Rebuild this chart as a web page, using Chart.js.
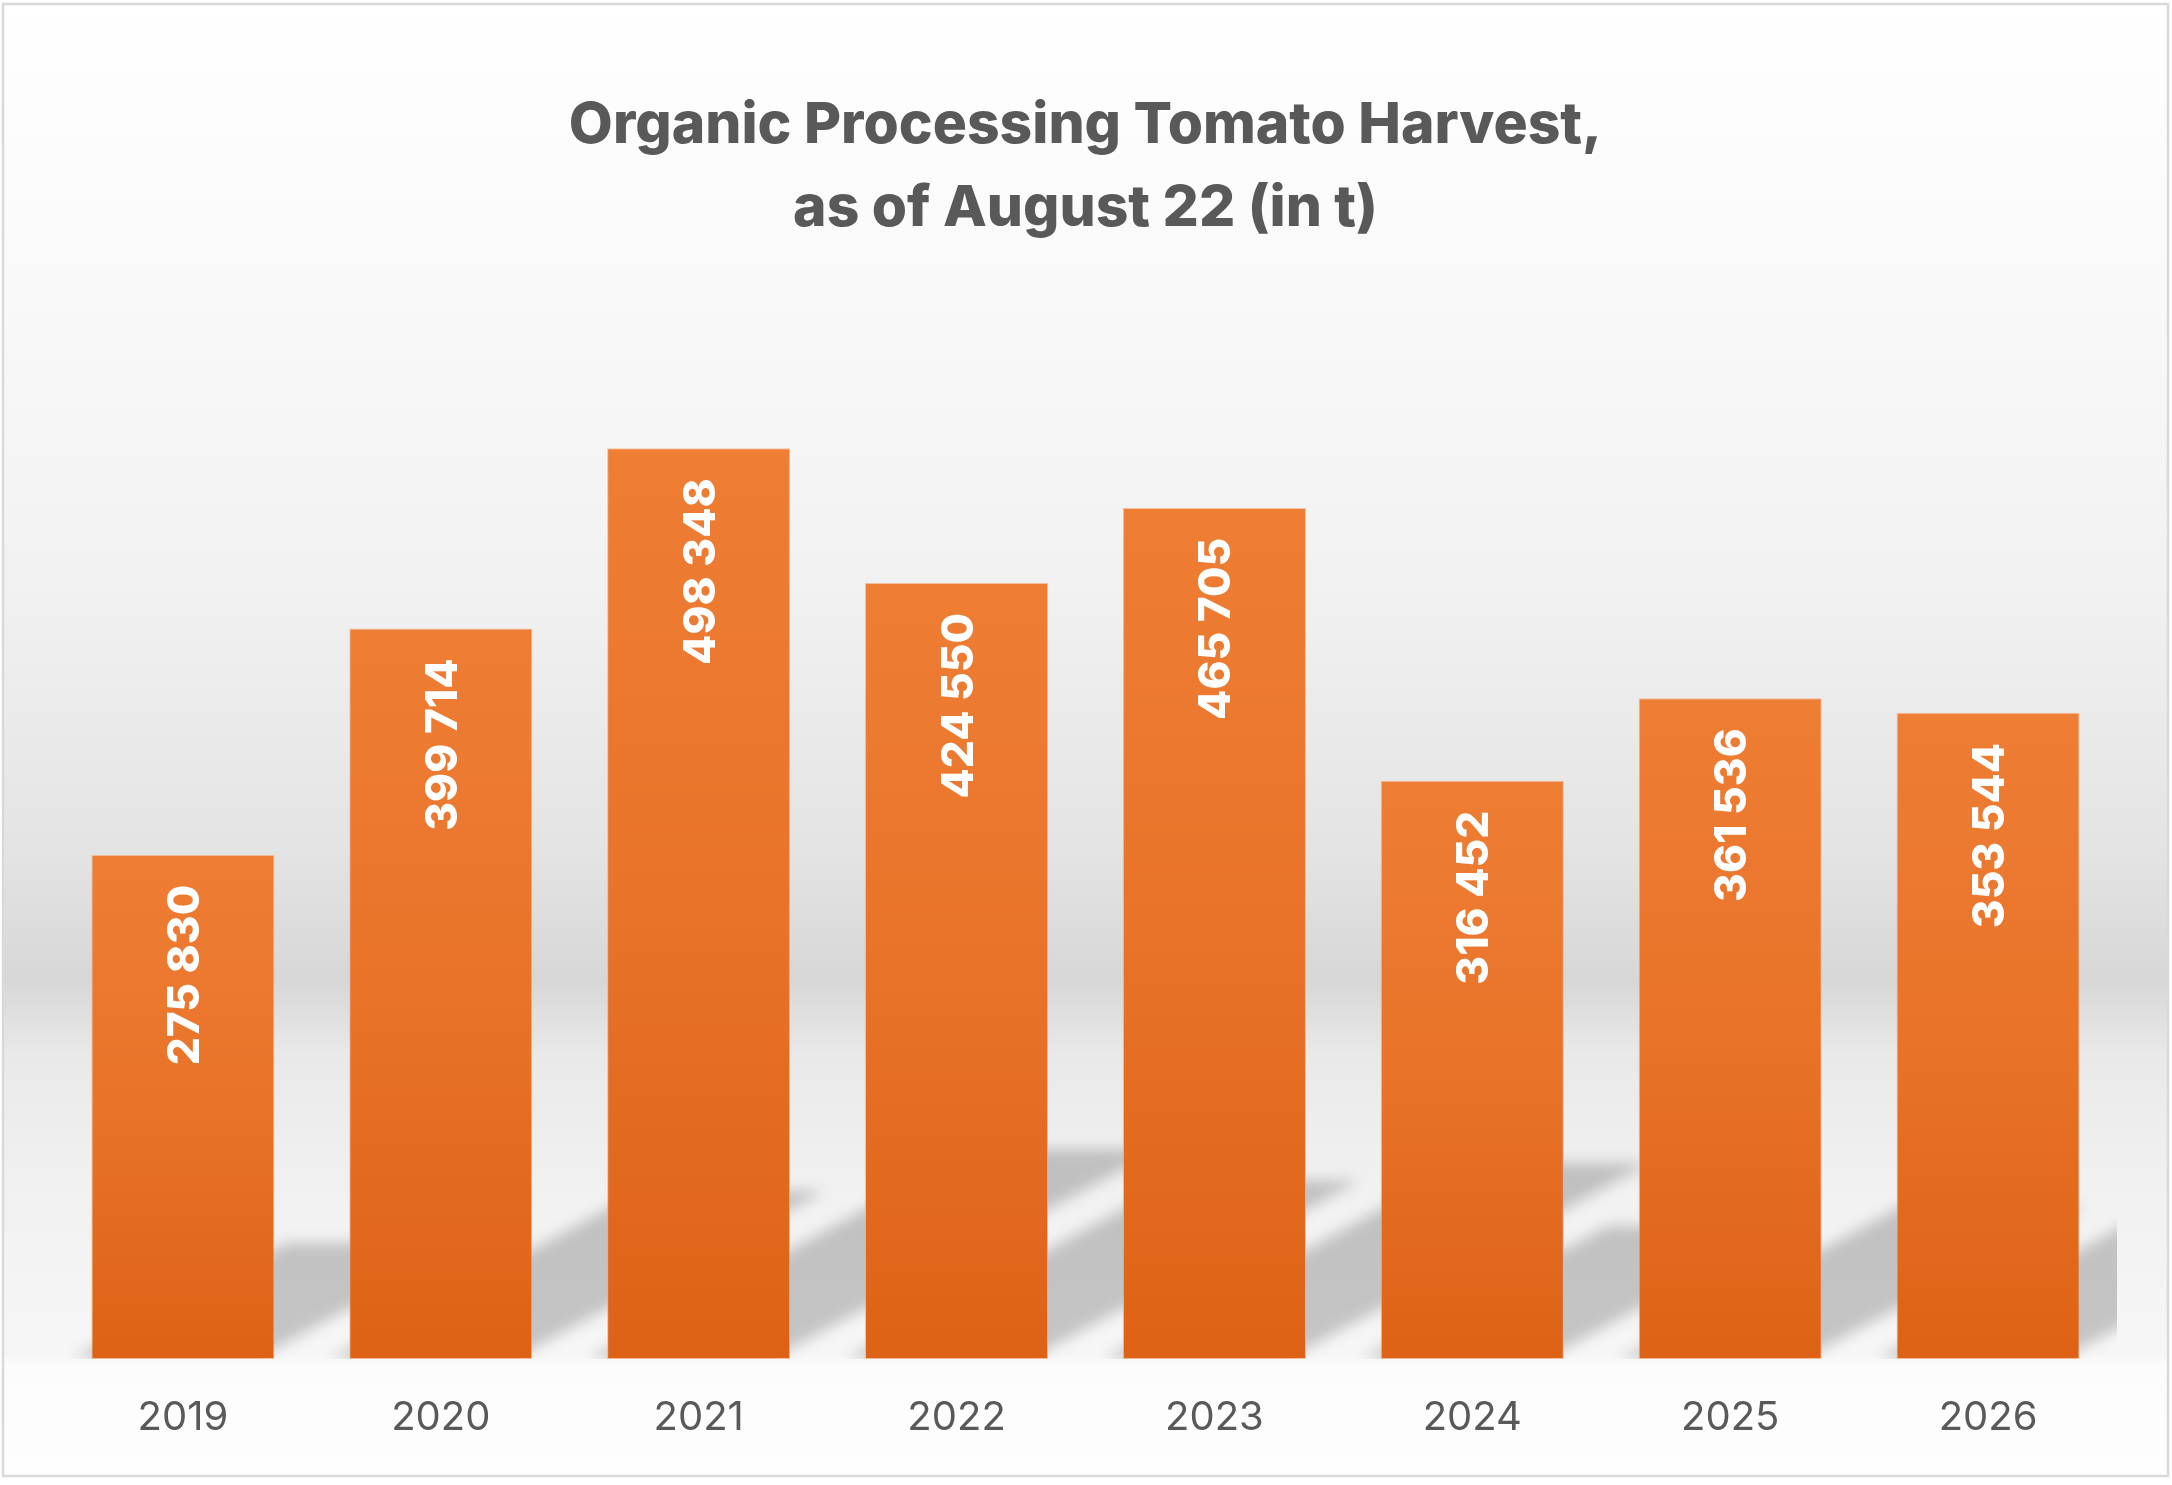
<!DOCTYPE html>
<html>
<head>
<meta charset="utf-8">
<script src="https://cdn.jsdelivr.net/npm/chart.js@4.4.1/dist/chart.umd.min.js"></script>
<style>
  html, body { margin: 0; padding: 0; background: #ffffff; }
  canvas { display: block; }
</style>
</head>
<body>
<canvas id="c" width="2172" height="1485"></canvas>
<script>
// ---- data ----
const years = ['2019', '2020', '2021', '2022', '2023', '2024', '2025', '2026'];
const harvest = [275830, 399714, 498348, 424550, 465705, 316452, 361536, 353544];
const titleLines = ['Organic Processing Tomato Harvest,', 'as of August 22 (in t)'];
const yMin = 0;
const yMax = 600000;

function fmt(v) {
  return String(v).replace(/\B(?=(\d{3})+(?!\d))/g, ' ');
}

// background + frame
const bgPlugin = {
  id: 'bg',
  beforeDraw(chart) {
    const ctx = chart.ctx;
    const W = chart.width, H = chart.height;
    ctx.save();
    ctx.fillStyle = '#ffffff';
    ctx.fillRect(0, 0, W, H);
    const g = ctx.createLinearGradient(0, 0, 0, H);
    g.addColorStop(0.00, '#ffffff');
    g.addColorStop(0.20, '#f9f9f9');
    g.addColorStop(0.40, '#f1f1f1');
    g.addColorStop(0.57, '#e4e4e4');
    g.addColorStop(0.66, '#d7d7d7');
    g.addColorStop(0.71, '#e9e9e9');
    g.addColorStop(0.80, '#f1f1f1');
    g.addColorStop(0.912, '#f6f6f6');
    g.addColorStop(0.920, '#fcfcfc');
    g.addColorStop(1.00, '#fefefe');
    ctx.fillStyle = g;
    ctx.fillRect(3, 4, 2165, 1472);
    ctx.strokeStyle = '#d9d9d9';
    ctx.lineWidth = 2.5;
    ctx.strokeRect(3, 4, 2165, 1472);
    ctx.restore();
  }
};

// perspective shadows behind bars
const shadowPlugin = {
  id: 'barShadow',
  beforeDatasetsDraw(chart) {
    const ctx = chart.ctx;
    const area = chart.chartArea;
    const meta = chart.getDatasetMeta(0);
    ctx.save();
    ctx.beginPath();
    ctx.rect(area.left, area.top, area.right - area.left, area.bottom - area.top);
    ctx.clip();
    ctx.filter = 'blur(7px)';
    ctx.fillStyle = 'rgba(0,0,0,0.2)';
    meta.data.forEach(bar => {
      const p = bar.getProps(['x', 'y', 'base', 'width'], true);
      const hh = (p.base - p.y) * 0.23;
      const shift = hh * 1.85;
      const l = p.x - p.width / 2 - 19;
      const r = p.x + p.width / 2 - 19;
      ctx.beginPath();
      ctx.moveTo(l, p.base);
      ctx.lineTo(r, p.base);
      ctx.lineTo(r + shift, p.base - hh);
      ctx.lineTo(l + shift, p.base - hh);
      ctx.closePath();
      ctx.fill();
    });
    ctx.restore();
  }
};

// value labels inside bars (rotated)
const labelPlugin = {
  id: 'barLabels',
  afterDatasetsDraw(chart) {
    const ctx = chart.ctx;
    const meta = chart.getDatasetMeta(0);
    const data = chart.data.datasets[0].data;
    const size = 44;
    ctx.save();
    ctx.fillStyle = '#ffffff';
    ctx.font = '800 ' + size + 'px Inter, "Open Sans", sans-serif';
    ctx.textAlign = 'right';
    ctx.textBaseline = 'alphabetic';
    meta.data.forEach((bar, i) => {
      const p = bar.getProps(['x', 'y'], true);
      ctx.save();
      ctx.translate(p.x, p.y + 30);
      ctx.rotate(-Math.PI / 2);
      ctx.fillText(fmt(data[i]), 0, size * 0.727 / 2);
      ctx.restore();
    });
    ctx.restore();
  }
};

function barGradient(context) {
  const chart = context.chart;
  if (!chart.chartArea || context.type !== 'data') return '#e8742a';
  const ys = chart.scales.y;
  const top = ys.getPixelForValue(context.raw);
  const bottom = ys.getPixelForValue(0);
  if (!isFinite(top) || !isFinite(bottom) || top === bottom) return '#e8742a';
  const g = chart.ctx.createLinearGradient(0, top, 0, bottom);
  g.addColorStop(0, '#ee7e34');
  g.addColorStop(0.5, '#e87329');
  g.addColorStop(1, '#dd6216');
  return g;
}

new Chart(document.getElementById('c'), {
  type: 'bar',
  data: {
    labels: years,
    datasets: [{
      data: harvest,
      backgroundColor: barGradient,
      borderColor: 'rgba(247,170,120,0.7)',
      borderWidth: 1,
      borderSkipped: false,
      barPercentage: 0.71,
      categoryPercentage: 1.0
    }]
  },
  options: {
    responsive: false,
    devicePixelRatio: 1,
    animation: false,
    layout: { padding: { left: 54, right: 55, top: 0, bottom: 8 } },
    plugins: {
      legend: { display: false },
      tooltip: { enabled: false },
      title: {
        display: true,
        text: titleLines,
        color: '#595959',
        font: { family: 'Inter, "Open Sans", sans-serif', size: 57, weight: '800', lineHeight: 1.46 },
        padding: { top: 84, bottom: 12 }
      }
    },
    scales: {
      x: {
        grid: { display: false, drawTicks: false },
        border: { display: false },
        ticks: {
          color: '#595959',
          font: { family: 'Inter, "Open Sans", sans-serif', size: 40, weight: '400' },
          padding: 35
        }
      },
      y: {
        display: false,
        min: yMin,
        max: yMax
      }
    }
  },
  plugins: [bgPlugin, shadowPlugin, labelPlugin]
});
</script>
</body>
</html>
